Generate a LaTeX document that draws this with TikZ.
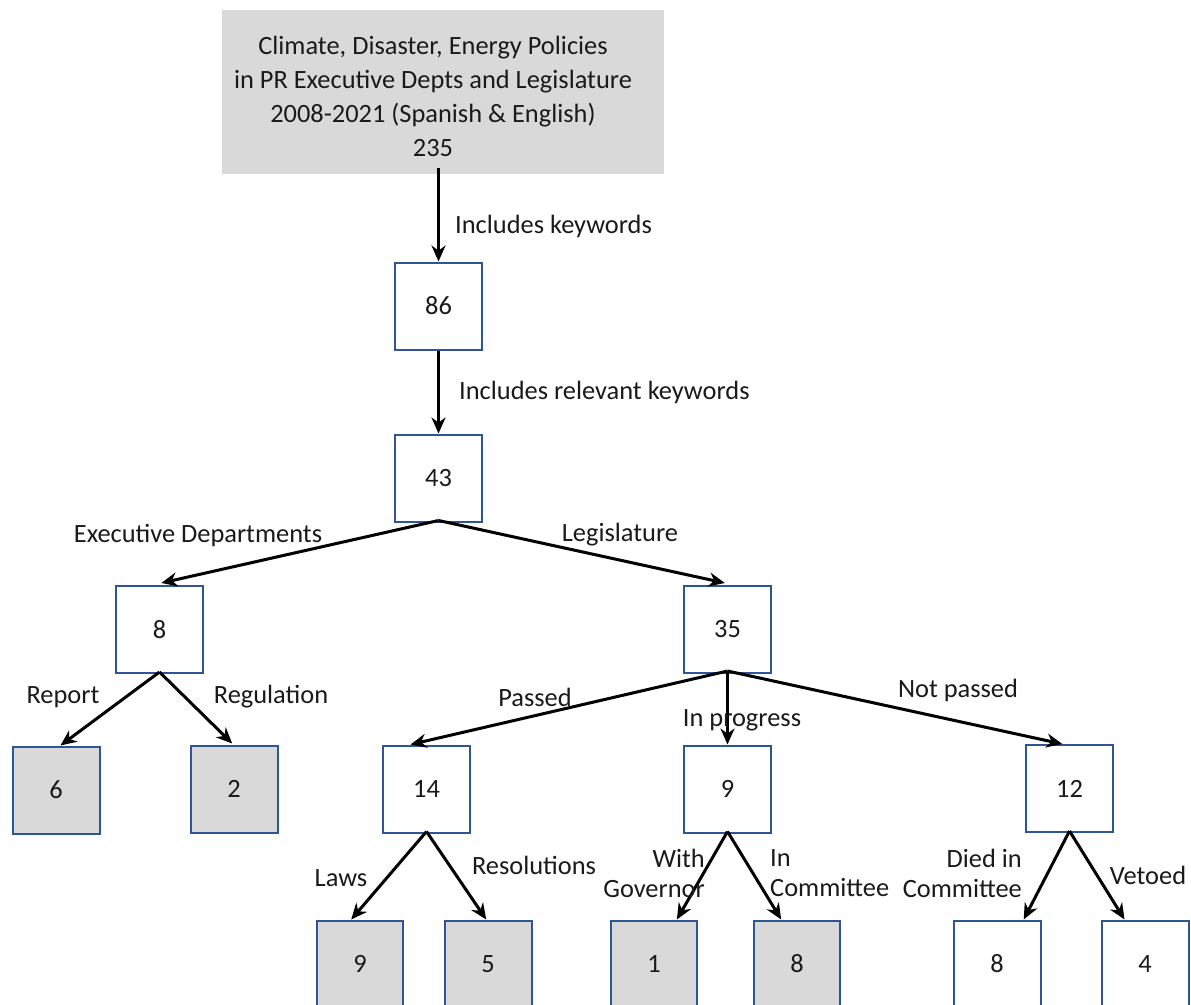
\documentclass[tikz,border=0pt]{standalone}
\usepackage{fontspec}
\setmainfont{Carlito}
\usetikzlibrary{arrows.meta,calc}
\definecolor{boxblue}{HTML}{2F5597}
\definecolor{boxgray}{HTML}{D9D9D9}
\definecolor{txt}{HTML}{1A1A1A}
\tikzset{
  every node/.style={font=\fontsize{26.4}{30}\selectfont, text=txt},
  wbox/.style={draw=boxblue, line width=2pt, fill=white, minimum width=#1, minimum height=87pt, inner sep=0pt},
  gbox/.style={draw=boxblue, line width=2pt, fill=boxgray, minimum width=#1, minimum height=87pt, inner sep=0pt},
  conn/.style={line width=3pt, -{Stealth[length=16pt,width=14pt]}},
  lbl/.style={inner sep=0pt}
}
\begin{document}
\begin{tikzpicture}[x=1pt,y=-1pt]
\useasboundingbox (0,0) rectangle (1191,1004);
\clip (0,0) rectangle (1191,1004);
\fill[white] (0,0) rectangle (1191,1004);
% top box
\node[fill=boxgray, minimum width=442pt, minimum height=164pt, inner sep=0pt] (top) at (443,92) {};
\node[lbl, align=center, font=\fontsize{26.4}{34}\selectfont] (toptxt) at (433,96)
  {Climate, Disaster, Energy Policies\\in PR Executive Depts and Legislature\\2008-2021 (Spanish \& English)\\235};
\node[wbox=87pt] (n86) at (438.5,306) {86};
\node[wbox=87pt] (n43) at (438.5,478) {43};
\node[wbox=87pt] (n8) at (159.5,629.5) {8};
\node[wbox=87pt] (n35) at (727.5,629.5) {35};
\node[gbox=87pt] (n6) at (56,790) {6};
\node[gbox=87pt] (n2) at (234,789) {2};
\node[wbox=87pt] (n14) at (426.5,789) {14};
\node[wbox=87pt] (n9) at (727.5,789) {9};
\node[wbox=87pt] (n12) at (1069.5,788.5) {12};
\node[gbox=86pt] (b9) at (360,964) {9};
\node[gbox=87pt] (b5) at (488,964) {5};
\node[gbox=86pt] (b1) at (654,964) {1};
\node[gbox=86pt] (b8) at (797,964) {8};
\node[wbox=87pt] (w8) at (997,964) {8};
\node[wbox=87pt] (w4) at (1145,964) {4};
% arrow end points
\coordinate (t86) at ($(n86.north west)!0.5!(n86.north east)$);
\coordinate (t43) at ($(n43.north west)!0.5!(n43.north east)$);
\coordinate (t8) at ($(n8.north west)!0.52!(n8.north east)+(0,-2)$);
\coordinate (t35) at ($(n35.north west)!0.47!(n35.north east)+(0,-2)$);
\coordinate (t6) at ($(n6.north west)!0.55!(n6.north east)$);
\coordinate (t2) at ($(n2.north west)!0.48!(n2.north east)+(0,-1)$);
\coordinate (t14) at ($(n14.north west)!0.32!(n14.north east)$);
\coordinate (t9) at ($(n9.north west)!0.5!(n9.north east)$);
\coordinate (t12) at ($(n12.north west)!0.42!(n12.north east)$);
\coordinate (tb9) at ($(b9.north west)!0.4!(b9.north east)$);
\coordinate (tb5) at ($(b5.north west)!0.48!(b5.north east)$);
\coordinate (tb1) at ($(b1.north west)!0.76!(b1.north east)$);
\coordinate (tb8) at ($(b8.north west)!0.32!(b8.north east)$);
\coordinate (tw8) at ($(w8.north west)!0.8!(w8.north east)$);
\coordinate (tw4) at ($(w4.north west)!0.27!(w4.north east)$);
% connectors
\draw[conn] ([yshift=6pt]top.south -| n86.north) -- (t86);
\draw[conn] (n86.south) -- (t43);
\draw[conn] ([yshift=2pt]n43.south) -- (t8);
\draw[conn] ([yshift=2pt]n43.south) -- (t35);
\draw[conn] ([yshift=2pt]n8.south) -- (t6);
\draw[conn] ([yshift=2pt]n8.south) -- (t2);
\draw[conn] ([yshift=3pt]n35.south) -- (t14);
\draw[conn] ([yshift=3pt]n35.south) -- (t9);
\draw[conn] ([yshift=3pt]n35.south) -- (t12);
\draw[conn] ([yshift=2pt]n14.south) -- (tb9);
\draw[conn] ([yshift=2pt]n14.south) -- (tb5);
\draw[conn] ([yshift=2pt]n9.south) -- (tb1);
\draw[conn] ([yshift=2pt]n9.south) -- (tb8);
\draw[conn] ([yshift=2pt]n12.south) -- (tw8);
\draw[conn] ([yshift=2pt]n12.south) -- (tw4);
% labels
\node[lbl, anchor=west] (l1) at (455,226) {Includes keywords};
\node[lbl, anchor=west] (l2) at (459,392) {Includes relevant keywords};
\node[lbl] (l3) at (198,535) {Executive Departments};
\node[lbl] (l4) at (620,535) {Legislature};
\node[lbl] (l5) at (63,697) {Report};
\node[lbl] (l6) at (271,697) {Regulation};
\node[lbl] (l7) at (535,697) {Passed};
\node[lbl] (l8) at (742,720) {In progress};
\node[lbl] (l9) at (958,690) {Not passed};
\node[lbl] (l10) at (341,878) {Laws};
\node[lbl] (l11) at (534,865) {Resolutions};
\node[lbl, anchor=east, align=right] (l12) at (705,873) {With\\Governor};
\node[lbl, anchor=west, align=left] (l13) at (770,873) {In\\Committee};
\node[lbl, anchor=east, align=right] (l14) at (1022,873) {Died in\\Committee};
\node[lbl] (l15) at (1148,875) {Vetoed};
\end{tikzpicture}
\end{document}
